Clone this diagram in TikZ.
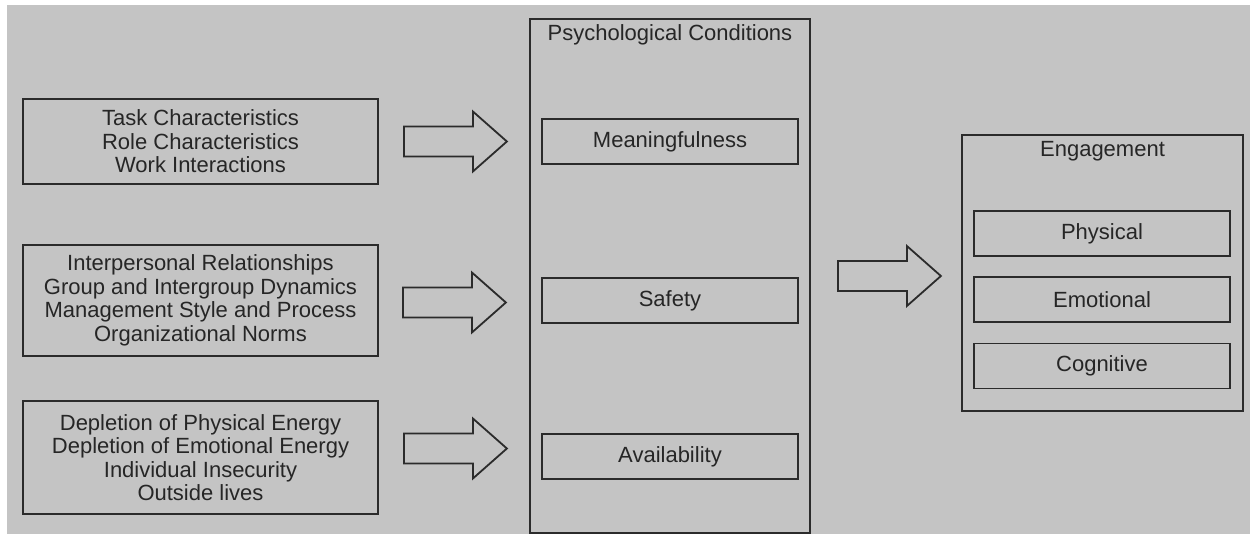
\documentclass[tikz,border=0pt]{standalone}
\usepackage{fontspec}
\setmainfont{Liberation Sans}
\usepackage{tikz}
\usetikzlibrary{positioning,calc}
\definecolor{canvas}{HTML}{C4C4C4}
\definecolor{ink}{HTML}{2B2B2B}
\definecolor{txt}{HTML}{262626}
\tikzset{
  box/.style={rectangle, draw=ink, line width=1.8pt, align=center, inner sep=0pt,
              text=txt, font=\fontsize{22}{23.5}\selectfont},
  srcbox/.style={box, minimum width=355pt},
  condbox/.style={box, minimum width=256pt, minimum height=45pt},
  framebox/.style={box},
  titletext/.style={text=txt, inner sep=0pt, font=\fontsize{22}{24}\selectfont},
  arrowline/.style={draw=ink, line width=1.8pt, line join=miter},
  fatarrow/.pic={\draw[arrowline] (0,-15) -- (69,-15) -- (69,-30) -- (103,0)
                   -- (69,30) -- (69,15) -- (0,15) -- cycle;},
}

\begin{document}
\begin{tikzpicture}[x=1pt, y=-1pt]
\useasboundingbox (0,0) rectangle (1250,534);
\fill[white] (0,0) rectangle (1250,534);
\fill[canvas] (7,5) rectangle (1250,534);

% antecedents
\node[srcbox, minimum height=85pt] (task) at (200.5,141.5)
 {Task Characteristics\\Role Characteristics\\Work Interactions};
\node[srcbox, minimum height=111pt] (social) at (200.5,300.5)
 {Interpersonal Relationships\\Group and Intergroup Dynamics\\Management Style and Process\\Organizational Norms};
\node[srcbox, minimum height=113pt] (energy) at (200.5,457.5)
 {Depletion of Physical Energy\\Depletion of Emotional Energy\\Individual Insecurity\\Outside lives};

% psychological conditions
\node[framebox, minimum width=280pt, minimum height=514pt] (psy) at (670,276) {};
\node[titletext] (psytitle) at (670,35) {Psychological Conditions};
\node[condbox] (meaning) at (670,141.5) {Meaningfulness};
\node[condbox] (safety) at (670,300.5) {Safety};
\node[condbox] (avail) at (670,456.5) {Availability};

% engagement
\node[framebox, minimum width=281pt, minimum height=276pt] (eng) at (1102.5,273) {};
\node[titletext] (engtitle) at (1102.5,151) {Engagement};
\node[condbox] (physical) at (1102,233.5) {Physical};
\node[condbox, below=19pt of physical] (emotional) {Emotional};
\node[condbox, below=20pt of emotional] (cognitive) {Cognitive};

% block arrows
\coordinate (a1) at ($(task.east)+(25,0)$);
\coordinate (a2) at ($(social.east)+(24,2)$);
\coordinate (a3) at ($(energy.east)+(25,-9)$);
\coordinate (a4) at ($(psy.east)+(27,0)$);
\foreach \tail in {a1,a2,a3,a4}
  \pic at (\tail) {fatarrow};
\end{tikzpicture}
\end{document}
